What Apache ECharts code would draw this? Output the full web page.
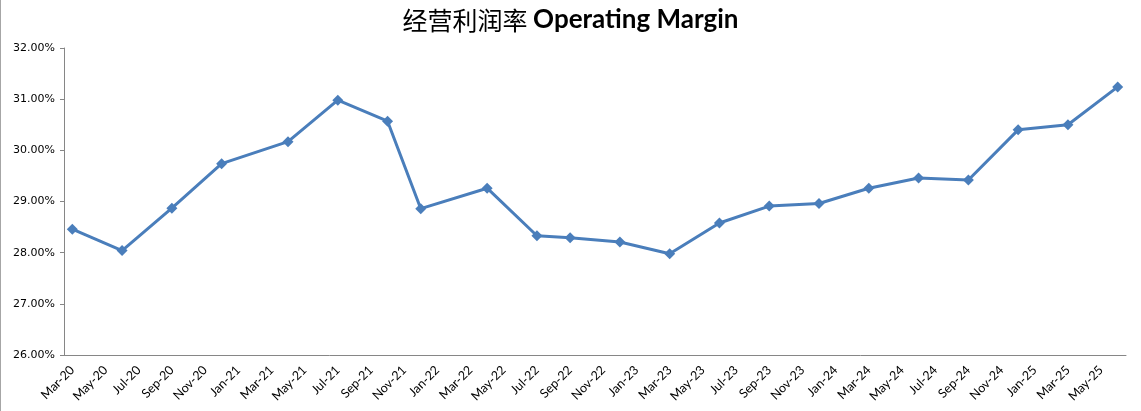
<!DOCTYPE html>
<html>
<head>
<meta charset="utf-8">
<script src="https://cdn.jsdelivr.net/npm/echarts@6/dist/echarts.min.js"></script>
<style>
html,body{margin:0;padding:0;background:#fff;}
#c{width:1141px;height:411px;}
</style>
</head>
<body>
<div id="c"></div>
<script>
// Data (months of observations and operating margin in %)
const obsMonths = ['2020-03','2020-06','2020-09','2020-12','2021-04','2021-07','2021-10','2021-12',
  '2022-04','2022-07','2022-09','2022-12','2023-03','2023-06','2023-09','2023-12',
  '2024-03','2024-06','2024-09','2024-12','2025-03','2025-06'];
const margins = [28.46, 28.04, 28.87, 29.74, 30.17, 30.98, 30.57, 28.86,
  29.26, 28.33, 28.29, 28.21, 27.98, 28.58, 28.91, 28.96,
  29.26, 29.46, 29.42, 30.40, 30.50, 31.24];
const axisStart = '2020-03';
const axisEnd = '2025-06';
const yTicks = [26, 27, 28, 29, 30, 31, 32];
const monthNames = ['Jan','Feb','Mar','Apr','May','Jun','Jul','Aug','Sep','Oct','Nov','Dec'];

// Build month categories along the date axis
const cats = [];
let [yy, mm] = axisStart.split('-').map(Number);
const [ey, em] = axisEnd.split('-').map(Number);
while (yy < ey || (yy === ey && mm <= em)) {
  cats.push(yy + '-' + String(mm).padStart(2, '0'));
  mm++; if (mm > 12) { mm = 1; yy++; }
}
const seriesData = cats.map(c => {
  const i = obsMonths.indexOf(c);
  return i >= 0 ? margins[i] : null;
});
function catLabel(c) {
  const [y, m] = c.split('-').map(Number);
  return monthNames[m - 1] + '-' + String(y).slice(2);
}

const chart = echarts.init(document.getElementById('c'));
chart.setOption({
  animation: false,
  backgroundColor: '#ffffff',
  title: {
    text: '经营利润率 {b|Operating Margin}',
    left: 'center',
    top: 2,
    textStyle: {
      fontFamily: '"Noto Sans CJK SC"',
      fontSize: 25,
      fontWeight: 'normal',
      color: '#000',
      rich: {
        b: { fontFamily: 'Lato', fontWeight: 'bold', fontSize: 26, color: '#000' }
      }
    }
  },
  graphic: [{
    type: 'line', shape: { x1: 0.5, y1: 0, x2: 0.5, y2: 411 },
    style: { stroke: '#a6a6a6', lineWidth: 1 }
  }],
  grid: { left: 64, right: 15, top: 48, bottom: 56, containLabel: false },
  xAxis: {
    type: 'category',
    data: cats,
    boundaryGap: true,
    axisLine: { lineStyle: { color: '#868686', width: 1 } },
    axisTick: { interval: 1, length: 4, lineStyle: { color: '#868686' } },
    axisLabel: {
      interval: 1,
      rotate: 45,
      formatter: catLabel,
      fontFamily: 'Lato',
      fontSize: 12.5,
      color: '#000',
      margin: 13
    },
    splitLine: { show: false }
  },
  yAxis: {
    type: 'value',
    min: yTicks[0],
    max: yTicks[yTicks.length - 1],
    interval: 1,
    axisLine: { show: true, lineStyle: { color: '#868686', width: 1 } },
    axisTick: { show: true, length: 4, lineStyle: { color: '#868686' } },
    axisLabel: {
      formatter: v => v.toFixed(2) + '%',
      fontFamily: '"DejaVu Sans"',
      fontSize: 11,
      color: '#000',
      margin: 9
    },
    splitLine: { show: false }
  },
  series: [{
    type: 'line',
    data: seriesData,
    connectNulls: true,
    symbol: 'diamond',
    symbolSize: 11,
    showAllSymbol: true,
    lineStyle: { color: '#4a7ebb', width: 3 },
    itemStyle: { color: '#4a7ebb' }
  }]
});
</script>
</body>
</html>
